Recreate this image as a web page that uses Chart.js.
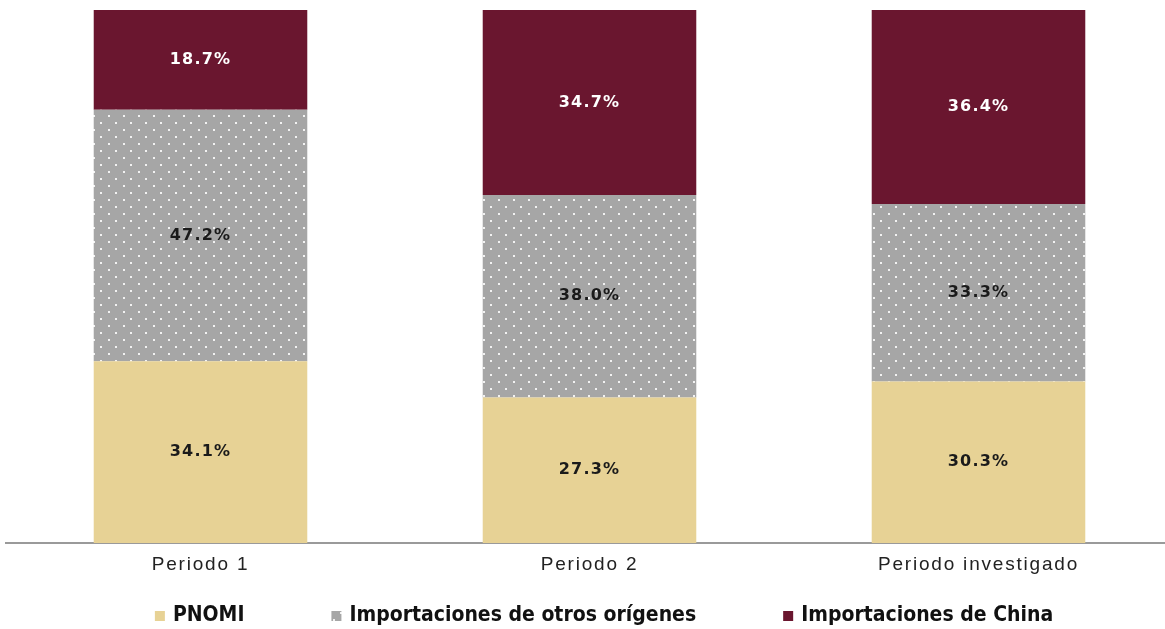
<!DOCTYPE html>
<html>
<head>
<meta charset="utf-8">
<script src="https://cdn.jsdelivr.net/npm/chart.js@4.4.0/dist/chart.umd.min.js"></script>
<style>
  html, body { margin: 0; padding: 0; background: #fff; overflow: hidden; }
  #wrap { position: relative; width: 1175px; height: 629px; }
</style>
</head>
<body>
<div id="wrap"><canvas id="chart"></canvas></div>
<script>
  const PERIODOS = ['Periodo 1', 'Periodo 2', 'Periodo investigado'];
  const PNOMI = [34.1, 27.3, 30.3];
  const OTROS = [47.2, 38.0, 33.3];
  const CHINA = [18.7, 34.7, 36.4];

  const COLORS = {
    pnomi: '#e7d295',
    otros: '#a6a6a6',
    china: '#6a162f',
    axis: '#9a9a9a'
  };

  // dotted grey fill like the original
  function dotPattern() {
    const c = document.createElement('canvas');
    c.width = 15; c.height = 14;
    const g = c.getContext('2d');
    g.fillStyle = COLORS.otros;
    g.fillRect(0, 0, 15, 14);
    g.fillStyle = '#f2f2f2';
    g.fillRect(3, 3, 2, 2);
    g.fillRect(10, 10, 2, 2);
    return g.createPattern(c, 'repeat');
  }

  const ctx = document.getElementById('chart').getContext('2d');
  const otrosFill = dotPattern();

  // percentage labels in the middle of each segment
  const segLabels = {
    id: 'segLabels',
    afterDatasetsDraw(chart) {
      const c = chart.ctx;
      c.save();
      c.font = 'bold 16px "DejaVu Sans", sans-serif';
      c.letterSpacing = '1.2px';
      c.textAlign = 'center';
      c.textBaseline = 'middle';
      chart.data.datasets.forEach((ds, i) => {
        chart.getDatasetMeta(i).data.forEach((bar, j) => {
          const mid = (bar.y + bar.base) / 2;
          c.fillStyle = i === 2 ? '#ffffff' : '#1a1a1a';
          c.fillText(ds.data[j].toFixed(1) + '%', bar.x, mid);
        });
      });
      c.restore();
    }
  };

  // category labels (spaced out) and legend row under the axis
  const LEGEND_CX = 604;
  const bottomText = {
    id: 'bottomText',
    afterDraw(chart) {
      const c = chart.ctx;
      const xs = chart.scales.x;
      const area = chart.chartArea;
      c.save();
      c.font = '19px "Liberation Sans", Arial, sans-serif';
      c.letterSpacing = '1.8px';
      c.fillStyle = '#222';
      c.textAlign = 'center';
      c.textBaseline = 'middle';
      chart.data.labels.forEach((lab, i) => {
        c.fillText(lab, xs.getPixelForValue(i), area.bottom + 22);
      });

      c.letterSpacing = '0px';
      c.font = 'bold 21px "Liberation Sans Narrow", "DejaVu Sans Condensed", sans-serif';
      c.textAlign = 'left';
      const box = 10, gapText = 8, gapItem = 87;
      const items = chart.data.datasets.map(ds => ({ ds, w: c.measureText(ds.label).width }));
      const total = items.reduce((s, it) => s + box + gapText + it.w, 0) + gapItem * (items.length - 1);
      let x = LEGEND_CX - total / 2;
      const y = area.bottom + 73;
      items.forEach(it => {
        c.fillStyle = it.ds.backgroundColor;
        c.fillRect(x, y - box / 2, box, box);
        c.fillStyle = '#111';
        c.fillText(it.ds.label, x + box + gapText, y);
        x += box + gapText + it.w + gapItem;
      });
      c.restore();
    }
  };

  new Chart(ctx, {
    type: 'bar',
    data: {
      labels: PERIODOS,
      datasets: [
        { label: 'PNOMI', data: PNOMI, backgroundColor: COLORS.pnomi },
        { label: 'Importaciones de otros orígenes', data: OTROS, backgroundColor: otrosFill },
        { label: 'Importaciones de China', data: CHINA, backgroundColor: COLORS.china }
      ]
    },
    options: {
      responsive: true,
      maintainAspectRatio: false,
      animation: false,
      layout: { padding: { left: 6, right: 2, top: 10, bottom: 78 } },
      datasets: { bar: { barPercentage: 0.549, categoryPercentage: 1 } },
      scales: {
        x: {
          stacked: true,
          grid: { display: false },
          border: { display: true, color: COLORS.axis, width: 2 },
          ticks: { display: false }
        },
        y: {
          stacked: true,
          display: false,
          min: 0,
          max: 100
        }
      },
      plugins: {
        tooltip: { enabled: false },
        legend: { display: false }
      }
    },
    plugins: [segLabels, bottomText]
  });
</script>
</body>
</html>
